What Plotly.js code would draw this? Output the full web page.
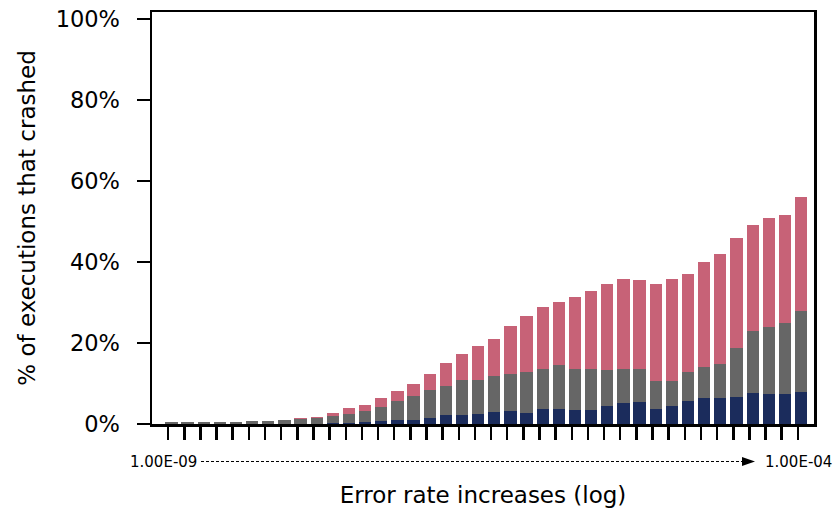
<!DOCTYPE html>
<html>
<head>
<meta charset="utf-8">
<script src="https://cdn.plot.ly/plotly-3.0.1.min.js"></script>
<style>
  html, body { margin: 0; padding: 0; background: #fff; }
  #chart { width: 835px; height: 508px; }
</style>
</head>
<body>
<div id="chart"></div>
<script>
// Bar positions (40 error-rate steps, log scale from 1.00E-09 to 1.00E-04)
const steps = Array.from({length: 40}, (_, i) => i);
const tickPositions = steps.map(i => i - 0.2);
const tickLabels = steps.map(() => '');
const startLabel = '1.00E-09';
const endLabel = '1.00E-04';

// Stacked segment values (% of executions that crashed)
const navyValues = [0,0,0,0,0,0,0,0,0.1,0.1,0.2,0.3,0.6,0.7,1.0,1.0,1.5,2.1,2.1,2.5,
                    2.9,3.1,2.7,3.6,3.6,3.4,3.4,4.5,5.3,5.5,3.6,4.5,5.8,6.3,6.3,6.7,7.7,7.4,7.4,7.9];
const grayValues = [0.4,0.4,0.4,0.4,0.4,0.65,0.7,1.0,1.2,1.4,1.8,2.2,2.5,3.5,4.8,5.9,6.9,7.2,8.8,8.3,
                    9.0,9.2,10.1,10.1,10.9,10.3,10.2,8.8,8.4,8.2,6.9,6.2,7.0,7.8,8.5,12.1,15.2,16.6,17.5,20.0];
const pinkValues = [0,0,0,0,0,0,0.05,0,0.1,0.2,0.6,1.4,1.7,2.1,2.3,2.9,4.0,5.8,6.3,8.5,
                    9.1,11.8,13.9,15.1,15.5,17.6,19.3,21.3,22.1,21.9,24.1,25.1,24.2,26.0,27.2,27.2,26.2,26.9,26.6,28.1];

const yTicks = [0, 20, 40, 60, 80, 100];
const yTickLabels = ['0%', '20%', '40%', '60%', '80%', '100%'];

const FONT = 'DejaVu Sans, sans-serif';

const traces = [
  {type: 'bar', x: steps, y: navyValues, marker: {color: '#1b2c5c', line: {width: 0}}, hoverinfo: 'skip'},
  {type: 'bar', x: steps, y: grayValues, marker: {color: '#666666', line: {width: 0}}, hoverinfo: 'skip'},
  {type: 'bar', x: steps, y: pinkValues, marker: {color: '#c76277', line: {width: 0}}, hoverinfo: 'skip'}
];

// plot area: x 152..814, y 12..424
const L = 152, R = 814, T = 12, B = 424;
const W = R - L, H = B - T;
const px = v => (v - L) / W;
const py = v => (B - v) / H;

const lineY = 461.5;

const layout = {
  width: 835, height: 508,
  margin: {l: L, r: 835 - R, t: T, b: 508 - B},
  paper_bgcolor: '#fff', plot_bgcolor: '#fff',
  barmode: 'stack',
  bargap: 0.24,
  showlegend: false,
  font: {family: FONT, color: '#000'},
  xaxis: {
    range: [-1.2, 39.8],
    tickvals: tickPositions,
    ticktext: tickLabels,
    showticklabels: false,
    ticks: 'outside', ticklen: 13, tickwidth: 2.5, tickcolor: '#000',
    showline: true, linewidth: 2.5, linecolor: '#000', mirror: true,
    showgrid: false, zeroline: false,
    title: {text: 'Error rate increases (log)', font: {size: 23, family: FONT, color: '#000'}, standoff: 51}
  },
  yaxis: {
    range: [0, 101.7],
    tickvals: yTicks,
    ticktext: yTickLabels,
    ticks: 'outside', ticklen: 13, tickwidth: 2.5, tickcolor: '#000',
    tickfont: {size: 22.5, family: FONT, color: '#000'},
    ticklabelstandoff: 12,
    showline: true, linewidth: 2.5, linecolor: '#000', mirror: true,
    showgrid: false, zeroline: false,
    title: {text: '% of executions that crashed', font: {size: 23, family: FONT, color: '#000'}, standoff: 14}
  },
  shapes: [
    {type: 'line', xref: 'paper', yref: 'paper', x0: px(201), x1: px(744), y0: py(lineY), y1: py(lineY),
     line: {color: '#000', width: 1, dash: '3px,2px'}},
    {type: 'path', xref: 'paper', yref: 'paper',
     path: `M ${px(742)} ${py(lineY - 4.5)} L ${px(755)} ${py(lineY)} L ${px(742)} ${py(lineY + 4.5)} Z`,
     fillcolor: '#000', line: {color: '#000', width: 0}}
  ],
  annotations: [
    {text: startLabel, xref: 'paper', yref: 'paper', x: px(199), y: py(lineY), xanchor: 'right', yanchor: 'middle',
     showarrow: false, font: {size: 15, family: FONT, color: '#000'}},
    {text: endLabel, xref: 'paper', yref: 'paper', x: px(763), y: py(lineY), xanchor: 'left', yanchor: 'middle',
     showarrow: false, font: {size: 15, family: FONT, color: '#000'}}
  ]
};

Plotly.newPlot('chart', traces, layout, {displayModeBar: false, staticPlot: true});
</script>
</body>
</html>
